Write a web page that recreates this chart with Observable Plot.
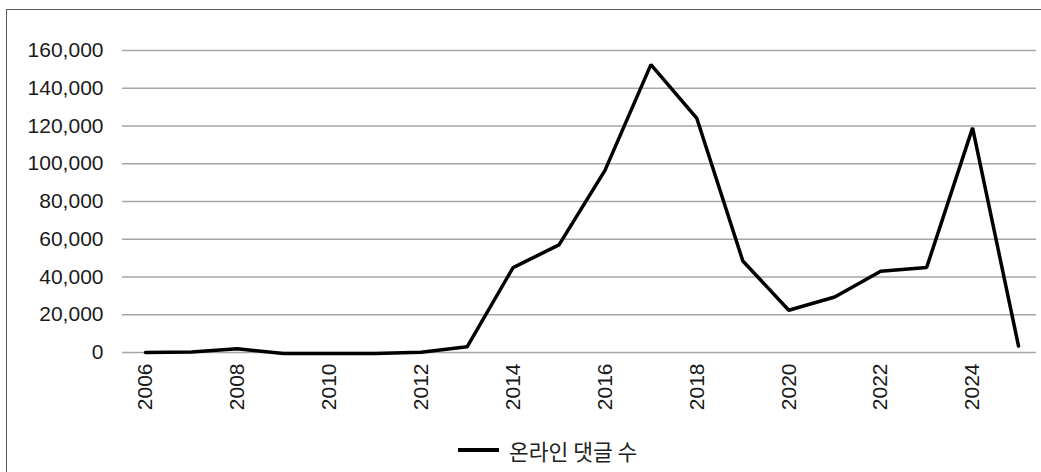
<!DOCTYPE html>
<html><head><meta charset="utf-8">
<script src="https://cdn.jsdelivr.net/npm/d3@7"></script>
<script src="https://cdn.jsdelivr.net/npm/@observablehq/plot@0.6"></script>
<style>
body{margin:0;background:#fff;}
#wrap{position:relative;width:1041px;height:472px;overflow:hidden;background:#fff;}
#frame{position:absolute;left:5.5px;top:8.5px;width:1100px;height:520px;border-top:1.5px solid #5a5a5a;border-left:1.5px solid #5a5a5a;}
#chart{position:absolute;left:0;top:0;}
#legend{position:absolute;left:458px;top:435px;height:30px;display:flex;align-items:center;font-family:"Noto Sans CJK KR",sans-serif;font-size:21.5px;color:#222;white-space:nowrap;}
#legend .sw{width:41px;height:3.5px;background:#000;margin-right:10px;}
</style></head>
<body>
<div id="wrap">
  <div id="frame"></div>
  <div id="chart"></div>
  <div id="legend"><span class="sw"></span><span>온라인 댓글 수</span></div>
</div>
<script>
const years = [2006,2007,2008,2009,2010,2011,2012,2013,2014,2015,2016,2017,2018,2019,2020,2021,2022,2023,2024,2025];
const comments = [0,300,2000,-500,-500,-500,100,3000,45000,57000,96500,152500,124000,48500,22400,29400,43000,45000,119000,3400];
const yTicks = [0,20000,40000,60000,80000,100000,120000,140000,160000];
const xTicks = [2006,2008,2010,2012,2014,2016,2018,2020,2022,2024];
const seriesName = "온라인 댓글 수";

const data = years.map((y, i) => ({year: y, value: comments[i], series: seriesName}));

const plot = Plot.plot({
  width: 1041,
  height: 420,
  marginLeft: 122,
  marginRight: 0,
  marginTop: 50,
  marginBottom: 68,
  style: {fontFamily: '"Liberation Sans", Arial, sans-serif', fontSize: "21px", color: "#1a1a1a", background: "transparent", overflow: "visible"},
  x: {type: "point", domain: years, padding: 0.5, round: false, label: null},
  y: {domain: [0, 160000], label: null},
  marks: [
    Plot.ruleY(yTicks, {stroke: "#a6a6a6", strokeWidth: 1.5, insetRight: 5}),
    Plot.axisY(yTicks, {tickSize: 0, tickPadding: 19, tickFormat: d3.format(","), fontSize: 21, label: null}),
    Plot.axisX(xTicks, {tickSize: 0, tickPadding: 11, tickRotate: -90, tickFormat: d => String(d), fontSize: 21, label: null}),
    Plot.line(data, {x: "year", y: "value", stroke: "#000", strokeWidth: 3.5, strokeLinejoin: "miter"})
  ]
});
document.getElementById("chart").appendChild(plot);
</script>
</body></html>
